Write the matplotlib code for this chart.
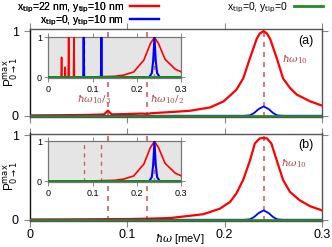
import matplotlib
matplotlib.use("Agg")
import matplotlib.pyplot as plt
from matplotlib.lines import Line2D

plt.rcParams['font.family'] = ['Liberation Sans', 'DejaVu Sans']
plt.rcParams['mathtext.fontset'] = 'dejavusans'

# ---------------- data ----------------
green_x = [0.0, 0.3]
green_y = [0.0, 0.0]

red_a_x = [0.0, 0.02, 0.04, 0.06, 0.076, 0.08, 0.084, 0.10, 0.115, 0.12, 0.125, 0.14,
           0.164, 0.185, 0.199, 0.212, 0.219, 0.226, 0.233, 0.236, 0.24, 0.2435, 0.2466,
           0.2535, 0.26, 0.267, 0.274, 0.2877, 0.30]
red_a_y = [0.003, 0.005, 0.007, 0.010, 0.015, 0.060, 0.016, 0.020, 0.026, 0.022, 0.030, 0.040,
           0.058, 0.098, 0.17, 0.306, 0.44, 0.68, 0.91, 0.97, 1.0, 0.97, 0.91,
           0.68, 0.44, 0.33, 0.25, 0.17, 0.12]

red_b_x = [0.0, 0.05, 0.10, 0.12, 0.144, 0.178, 0.195, 0.2055, 0.212, 0.219, 0.226, 0.231,
           0.236, 0.24, 0.2435, 0.248, 0.2535, 0.26, 0.267, 0.277, 0.2877, 0.30]
red_b_y = [0.002, 0.004, 0.008, 0.012, 0.020, 0.065, 0.13, 0.21, 0.31, 0.47, 0.70, 0.90,
           0.96, 0.965, 0.96, 0.90, 0.70, 0.47, 0.33, 0.23, 0.16, 0.11]

blue_x = [0.0, 0.22, 0.226, 0.23, 0.235, 0.24, 0.245, 0.25, 0.254, 0.26, 0.3]
blue_y = [0.0, 0.0, 0.005, 0.03, 0.08, 0.11, 0.08, 0.03, 0.005, 0.0, 0.0]

ins_red_a_x = [0.0, 0.029, 0.03, 0.031, 0.037, 0.038, 0.039, 0.045, 0.046, 0.047,
               0.057, 0.058, 0.059, 0.10, 0.15, 0.17, 0.193, 0.216, 0.231, 0.24,
               0.249, 0.264, 0.287, 0.30]
ins_red_a_y = [0.0, 0.0, 0.5, 0.0, 0.0, 0.25, 0.0, 0.0, 1.0, 0.0,
               0.0, 1.0, 0.0, 0.005, 0.02, 0.05, 0.13, 0.43, 0.85, 1.0,
               0.85, 0.45, 0.20, 0.135]

ins_red_b_x = [0.0, 0.10, 0.15, 0.17, 0.193, 0.216, 0.231, 0.24, 0.249, 0.264, 0.287, 0.30]
ins_red_b_y = [0.0, 0.005, 0.02, 0.05, 0.13, 0.43, 0.85, 1.0, 0.85, 0.45, 0.20, 0.135]

ins_blue_a_x = [0.0, 0.079, 0.08, 0.081, 0.119, 0.12, 0.121, 0.228, 0.234, 0.237, 0.24,
                0.243, 0.246, 0.252, 0.3]
ins_blue_a_y = [0.0, 0.0, 1.0, 0.0, 0.0, 1.0, 0.0, 0.0, 0.1, 0.4, 1.0,
                0.4, 0.1, 0.0, 0.0]

ins_blue_b_x = [0.0, 0.228, 0.234, 0.237, 0.24, 0.243, 0.246, 0.252, 0.3]
ins_blue_b_y = [0.0, 0.0, 0.1, 0.4, 1.0, 0.4, 0.1, 0.0, 0.0]

resonances = [0.08, 0.12, 0.24]
xticks = [0, 0.1, 0.2, 0.3]
xticklabels = ['0', '0.1', '0.2', '0.3']
yticks = [0, 1]

labels = [r'x$_{\rm tip}$=22 nm, y$_{\rm tip}$=10 nm',
          r'x$_{\rm tip}$=0, y$_{\rm tip}$=10 nm',
          r'x$_{\rm tip}$=0, y$_{\rm tip}$=0']

RED = '#ff0000'
BLUE = '#0000ff'
GREEN = '#228b22'
DASH = '#c86464'
TXT = '#b04848'
SPINE = '#555555'

fig = plt.figure(figsize=(3.32, 2.47), dpi=100)

W, H = 332.0, 247.0
def ax_rect(l, t, r, b):
    return [l / W, 1 - b / H, (r - l) / W, (b - t) / H]

ax_a = fig.add_axes(ax_rect(30, 29.5, 322, 117))
ax_b = fig.add_axes(ax_rect(30, 133.5, 322, 221))
in_a = fig.add_axes(ax_rect(48.3, 36.7, 181, 78.3))
in_b = fig.add_axes(ax_rect(48.3, 140.7, 181, 182.3))

def style_main(ax, show_x):
    ax.set_xlim(0, 0.3)
    ax.set_ylim(-0.015, 1.018)
    ax.set_xticks(xticks)
    ax.set_yticks(yticks)
    ax.set_yticklabels(['0', '1'])
    if show_x:
        ax.set_xticklabels(xticklabels)
    else:
        ax.set_xticklabels([])
    ax.tick_params(direction='out', length=4, width=0.8, color='#888888',
                   labelsize=9, top=True, right=True, pad=2)
    ax.tick_params(axis='y', pad=4)
    for s in ax.spines.values():
        s.set_color(SPINE)
        s.set_linewidth(1.0)
    ax.spines['left'].set_color('#111111')
    for r in resonances:
        ax.axvline(r, color=DASH, lw=1.2, dashes=(3, 3), zorder=1)

def style_inset(ax):
    ax.set_xlim(0, 0.3)
    ax.set_ylim(-0.03, 1.02)
    ax.set_facecolor('#e5e5e5')
    ax.set_xticks(xticks)
    ax.set_xticklabels(xticklabels)
    ax.set_yticks(yticks)
    ax.set_yticklabels(['0', '1'])
    ax.tick_params(direction='out', length=3, width=0.7, color='#888888',
                   labelsize=6.5, top=True, right=True, pad=1.5)
    for s in ax.spines.values():
        s.set_color('#777777')
        s.set_linewidth(0.9)
    for r in resonances:
        ax.axvline(r, color=DASH, lw=1.0, dashes=(3, 3), zorder=1)

style_main(ax_a, False)
style_main(ax_b, True)
style_inset(in_a)
style_inset(in_b)

ax_a.plot(red_a_x, red_a_y, color=RED, lw=1.6, zorder=3)
ax_a.plot(blue_x, blue_y, color=BLUE, lw=1.3, zorder=3)
ax_a.plot(green_x, green_y, color=GREEN, lw=2.0, zorder=4)

ax_b.plot(red_b_x, red_b_y, color=RED, lw=1.6, zorder=3)
ax_b.plot(blue_x, blue_y, color=BLUE, lw=1.3, zorder=3)
ax_b.plot(green_x, green_y, color=GREEN, lw=2.0, zorder=4)

in_a.plot(ins_red_a_x, ins_red_a_y, color=RED, lw=1.2, zorder=3)
in_a.plot(ins_blue_a_x, ins_blue_a_y, color=BLUE, lw=1.5, zorder=3)
in_a.plot(green_x, green_y, color=GREEN, lw=2.0, zorder=4)

in_b.plot(ins_red_b_x, ins_red_b_y, color=RED, lw=1.2, zorder=3)
in_b.plot(ins_blue_b_x, ins_blue_b_y, color=BLUE, lw=1.5, zorder=3)
in_b.plot(green_x, green_y, color=GREEN, lw=2.0, zorder=4)

# axis labels placed as figure text
ylab = r'P$^{\rm max}_{0\rightarrow 1}$'
fig.text(11 / W, 1 - 72 / H, ylab, rotation=90, ha='center', va='center', fontsize=8.5)
fig.text(11 / W, 1 - 176 / H, ylab, rotation=90, ha='center', va='center', fontsize=8.5)
fig.text(180 / W, 1 - 238.5 / H, r'$\hbar\omega$ [meV]', ha='center', va='center',
         fontsize=8, math_fontfamily='dejavuserif')

# annotations
ax_a.text(0.97, 0.87, '(a)', transform=ax_a.transAxes, ha='right', va='center', fontsize=9)
ax_b.text(0.97, 0.87, '(b)', transform=ax_b.transAxes, ha='right', va='center', fontsize=9)
ax_a.text(0.259, 0.66, r'$\hbar\omega_{10}$', color=TXT, fontsize=7.5, ha='left', va='center',
          math_fontfamily='dejavuserif')
ax_b.text(0.258, 0.66, r'$\hbar\omega_{10}$', color=TXT, fontsize=7.5, ha='left', va='center',
          math_fontfamily='dejavuserif')
ax_a.text(0.048, 0.19, r'$\hbar\omega_{10}/_3$', color=TXT, fontsize=7.5, ha='left', va='center',
          math_fontfamily='dejavuserif')
ax_a.text(0.123, 0.19, r'$\hbar\omega_{10}/_2$', color=TXT, fontsize=7.5, ha='left', va='center',
          math_fontfamily='dejavuserif')

# legend
h_red = Line2D([], [], color=RED, lw=1.6)
h_blue = Line2D([], [], color=BLUE, lw=1.6)
h_green = Line2D([], [], color=GREEN, lw=2.0)
leg1 = fig.legend([h_red, h_blue], labels[:2], loc='upper right',
                  bbox_to_anchor=(160 / W, 1.0), markerfirst=False, frameon=False,
                  fontsize=7.5, handlelength=2.8, handletextpad=0.6, labelspacing=-0.15,
                  borderpad=0.05, borderaxespad=0.0)
fig.add_artist(leg1)
fig.legend([h_green], labels[2:], loc='upper right',
           bbox_to_anchor=(324 / W, 1.0), markerfirst=False, frameon=False,
           fontsize=7.5, handlelength=2.8, handletextpad=0.6, labelspacing=0.1,
           borderpad=0.05, borderaxespad=0.0)

fig.savefig('out.png', dpi=100)
